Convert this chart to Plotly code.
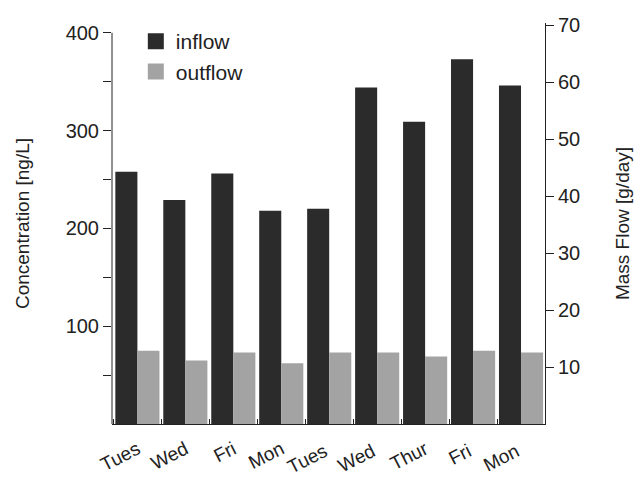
import plotly.graph_objects as go

days = ["Tues", "Wed", "Fri", "Mon", "Tues ", "Wed ", "Thur", "Fri ", "Mon "]
inflow = [258, 229, 256, 218, 220, 344, 309, 373, 346]
outflow = [75, 65, 73, 62, 73, 73, 69, 75, 73]
left_ticks = [50, 100, 150, 200, 250, 300, 350, 400]
left_text = ["", "100", "", "200", "", "300", "", "400"]
right_ticks = [10, 20, 30, 40, 50, 60, 70]

FONT = "Liberation Sans, Arial, sans-serif"
INK = "#222222"
C_IN = "#2b2b2b"
C_OUT = "#a3a3a3"

fig = go.Figure()
fig.add_trace(go.Bar(x=days, y=inflow, name="inflow", marker_color=C_IN,
                     marker_line_width=0, offsetgroup="a", showlegend=False))
fig.add_trace(go.Bar(x=days, y=outflow, name="outflow", marker_color=C_OUT,
                     marker_line_width=0, offsetgroup="b", showlegend=False))
# legend entries with larger square symbols
for nm, col in [("inflow", C_IN), ("outflow", C_OUT)]:
    fig.add_trace(go.Scatter(x=[None], y=[None], mode="markers", name=nm,
                             marker=dict(symbol="square", size=16, color=col)))
# invisible trace to activate the right axis
fig.add_trace(go.Scatter(x=[days[0]], y=[0], yaxis="y2", mode="markers",
                         marker_opacity=0, showlegend=False, hoverinfo="skip"))

fig.update_layout(
    width=642, height=477,
    margin=dict(l=112, r=93, t=23, b=53),
    paper_bgcolor="white", plot_bgcolor="white",
    font=dict(family=FONT, color=INK, size=20),
    barmode="group", bargap=0.08, bargroupgap=0,
    showlegend=True,
    legend=dict(x=0.055, y=1.005, xanchor="left", yanchor="top",
                font=dict(size=21, color=INK), bgcolor="rgba(0,0,0,0)",
                itemwidth=30, tracegroupgap=0),
    xaxis=dict(showline=True, linecolor=INK, linewidth=1, ticks="inside",
               tickson="boundaries", ticklen=5, tickcolor=INK,
               tickangle=-27, tickfont=dict(size=19), ticklabelstandoff=6,
               mirror=False, automargin=False),
    yaxis=dict(range=[0, 410], showline=False, showgrid=False, zeroline=False,
               tickvals=left_ticks, ticktext=left_text, ticks="outside",
               ticklen=8, tickcolor=INK, tickfont=dict(size=20),
               title=dict(text="Concentration [ng/L]", font=dict(size=19), standoff=30)),
    yaxis2=dict(range=[0, 70.35], overlaying="y", side="right", showline=True,
                linecolor=INK, linewidth=1, showgrid=False, zeroline=False,
                tickvals=right_ticks, ticks="outside", ticklen=8, tickcolor=INK,
                tickfont=dict(size=20),
                title=dict(text="Mass Flow [g/day]", font=dict(size=19), standoff=36)),
    shapes=[dict(type="line", xref="paper", yref="y", x0=0, x1=0, y0=0, y1=400,
                 line=dict(color=INK, width=1))],
)

fig.write_html("out.html")
